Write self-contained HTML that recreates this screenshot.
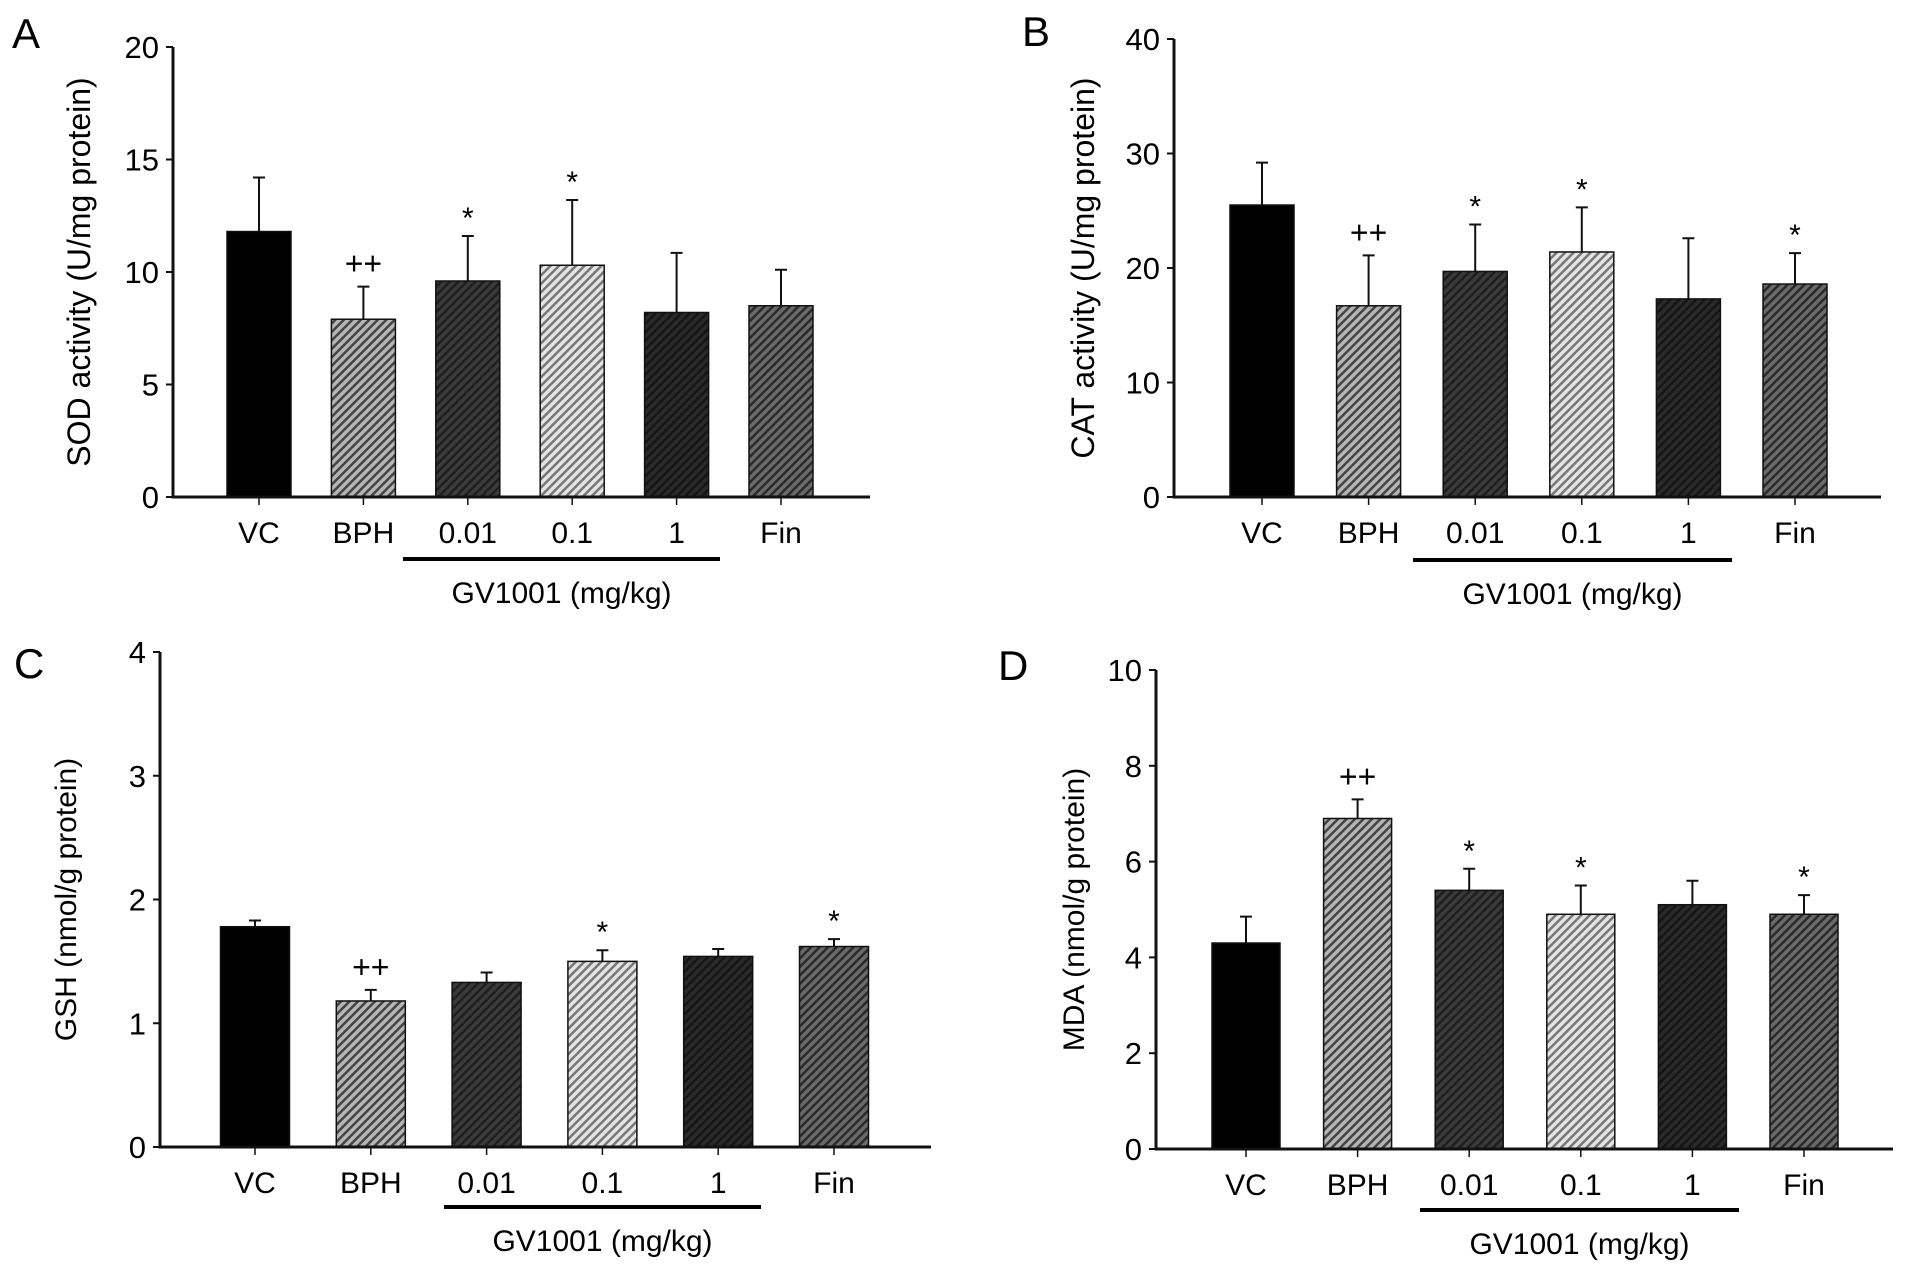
<!DOCTYPE html>
<html><head><meta charset="utf-8"><style>
html,body{margin:0;padding:0;background:#fff;}
svg{display:block;font-family:"Liberation Sans",Arial,sans-serif;}
</style></head><body>
<svg id="fig" width="1913" height="1274" viewBox="0 0 1913 1274" xmlns="http://www.w3.org/2000/svg">
<defs>
<pattern id="pBPH" width="6" height="6" patternUnits="userSpaceOnUse" patternTransform="rotate(45)"><rect width="6" height="6" fill="#b5b5b5"/><rect width="2.5" height="6" fill="#444"/></pattern>
<pattern id="p001" width="6" height="6" patternUnits="userSpaceOnUse" patternTransform="rotate(45)"><rect width="6" height="6" fill="#3a3a3a"/><rect width="2.5" height="6" fill="#1e1e1e"/></pattern>
<pattern id="p01" width="6" height="6" patternUnits="userSpaceOnUse" patternTransform="rotate(45)"><rect width="6" height="6" fill="#e4e4e4"/><rect width="2.5" height="6" fill="#777"/></pattern>
<pattern id="p1" width="6" height="6" patternUnits="userSpaceOnUse" patternTransform="rotate(45)"><rect width="6" height="6" fill="#2a2a2a"/><rect width="2.5" height="6" fill="#151515"/></pattern>
<pattern id="pFin" width="6" height="6" patternUnits="userSpaceOnUse" patternTransform="rotate(45)"><rect width="6" height="6" fill="#6a6a6a"/><rect width="2.5" height="6" fill="#2a2a2a"/></pattern>
</defs>
</svg>
<script>
// shared categories
const categories = ["VC","BPH","0.01","0.1","1","Fin"];
const fills = ["#000","url(#pBPH)","url(#p001)","url(#p01)","url(#p1)","url(#pFin)"];

// Panel A: SOD
const sodMeans = [11.8, 7.9, 9.6, 10.3, 8.2, 8.5];
const sodErrTop = [14.2, 9.35, 11.6, 13.2, 10.85, 10.1];
const sodMarks = ["", "++", "*", "*", "", ""];
const sodTicks = [0,5,10,15,20];

// Panel B: CAT
const catMeans = [25.5, 16.7, 19.7, 21.4, 17.3, 18.6];
const catErrTop = [29.2, 21.1, 23.8, 25.3, 22.6, 21.3];
const catMarks = ["", "++", "*", "*", "", "*"];
const catTicks = [0,10,20,30,40];

// Panel C: GSH
const gshMeans = [1.78, 1.18, 1.33, 1.5, 1.54, 1.62];
const gshErrTop = [1.83, 1.27, 1.41, 1.59, 1.6, 1.68];
const gshMarks = ["", "++", "", "*", "", "*"];
const gshTicks = [0,1,2,3,4];

// Panel D: MDA
const mdaMeans = [4.3, 6.9, 5.4, 4.9, 5.1, 4.9];
const mdaErrTop = [4.85, 7.3, 5.85, 5.5, 5.6, 5.3];
const mdaMarks = ["", "++", "*", "*", "", "*"];
const mdaTicks = [0,2,4,6,8,10];

const NS = "http://www.w3.org/2000/svg";
const svg = document.getElementById("fig");
function mk(tag, attrs, parent, text){
  const e = document.createElementNS(NS, tag);
  for (const k in attrs) e.setAttribute(k, attrs[k]);
  if (text !== undefined) e.textContent = text;
  (parent||svg).appendChild(e);
  return e;
}

function panel(cfg, means, errTop, marks, ticks){
  const g = mk("g", {});
  
  
  const ymax = ticks[ticks.length-1];
  const y = v => cfg.y0 - (v/ymax)*(cfg.y0-cfg.yTop);
  const x = i => cfg.c0 + i*cfg.step;
  const L = mk("text", {x:cfg.lx, y:cfg.ly, "font-size":42}, g, cfg.letter);
  
  
  means.forEach((m,i)=>{
    const b = mk("rect", {x:x(i)-cfg.bw/2, y:y(m), width:cfg.bw, height:cfg.y0-y(m), fill:fills[i], stroke:"#111","stroke-width":1.5}, g);
    
    
    const e = mk("path", {d:`M${x(i)} ${y(m)} V${y(errTop[i])} M${x(i)-6} ${y(errTop[i])} H${x(i)+6}`, stroke:"#111","stroke-width":2, fill:"none"}, g);
    
    
    if (marks[i]) {
      const t = mk("text", {x:x(i), y:y(errTop[i]) - (marks[i]==="*"?8:12), "font-size":marks[i]==="*"?30:32, "text-anchor":"middle"}, g, marks[i]);
      
      
    }
    const tk = mk("line", {x1:x(i), x2:x(i), y1:cfg.y0, y2:cfg.y0+8, stroke:"#111","stroke-width":1.5}, g);
    
    
    const lb = mk("text", {x:x(i), y:cfg.labY, "font-size":30, "text-anchor":"middle"}, g, categories[i]);
    
    
  });
  const ax = mk("path", {d:`M${cfg.ax} ${cfg.yTop} V${cfg.y0} H${cfg.xEnd}`, stroke:"#111","stroke-width":3, fill:"none"}, g);
  
  
  ticks.forEach(t=>{
    const tl = mk("line", {x1:cfg.ax-7, x2:cfg.ax, y1:y(t), y2:y(t), stroke:"#111","stroke-width":2}, g);
    
    
    const tt = mk("text", {x:cfg.ax-14, y:y(t)+11, "font-size":31, "text-anchor":"end"}, g, String(t));
    
    
  });
  const yl = mk("text", {x:0, y:0, "font-size":cfg.ylfs, "text-anchor":"middle", transform:`translate(${cfg.ylx},${(cfg.yTop+cfg.y0)/2}) rotate(-90)`}, g, cfg.ylabel);
  
  
  const gl = mk("line", {x1:cfg.gx1, x2:cfg.gx2, y1:cfg.gy, y2:cfg.gy, stroke:"#000","stroke-width":4}, g);
  
  
  const gt = mk("text", {x:(cfg.gx1+cfg.gx2)/2, y:cfg.gy+44, "font-size":30, "text-anchor":"middle"}, g, "GV1001 (mg/kg)");
  
  
}

panel({id:"sod",letter:"A",lx:12,ly:48,ax:173,yTop:47,y0:497,xEnd:870,c0:259,step:104.4,bw:64,labY:543,gx1:403,gx2:720,gy:559,ylx:90,ylfs:32,ylabel:"SOD activity (U/mg protein)"}, sodMeans, sodErrTop, sodMarks, sodTicks);
panel({id:"cat",letter:"B",lx:1022,ly:46,ax:1174,yTop:39,y0:497,xEnd:1881,c0:1262,step:106.6,bw:64,labY:543,gx1:1413,gx2:1732,gy:560,ylx:1094,ylfs:32,ylabel:"CAT activity (U/mg protein)"}, catMeans, catErrTop, catMarks, catTicks);
panel({id:"gsh",letter:"C",lx:14,ly:678,ax:160,yTop:652,y0:1147,xEnd:931,c0:255,step:115.8,bw:69,labY:1193,gx1:444,gx2:761,gy:1207,ylx:76,ylfs:30,ylabel:"GSH (nmol/g protein)"}, gshMeans, gshErrTop, gshMarks, gshTicks);
panel({id:"mda",letter:"D",lx:998,ly:680,ax:1156,yTop:670,y0:1149,xEnd:1893,c0:1246,step:111.6,bw:68,labY:1195,gx1:1420,gx2:1739,gy:1210,ylx:1084,ylfs:30,ylabel:"MDA (nmol/g protein)"}, mdaMeans, mdaErrTop, mdaMarks, mdaTicks);
</script>
</body></html>
